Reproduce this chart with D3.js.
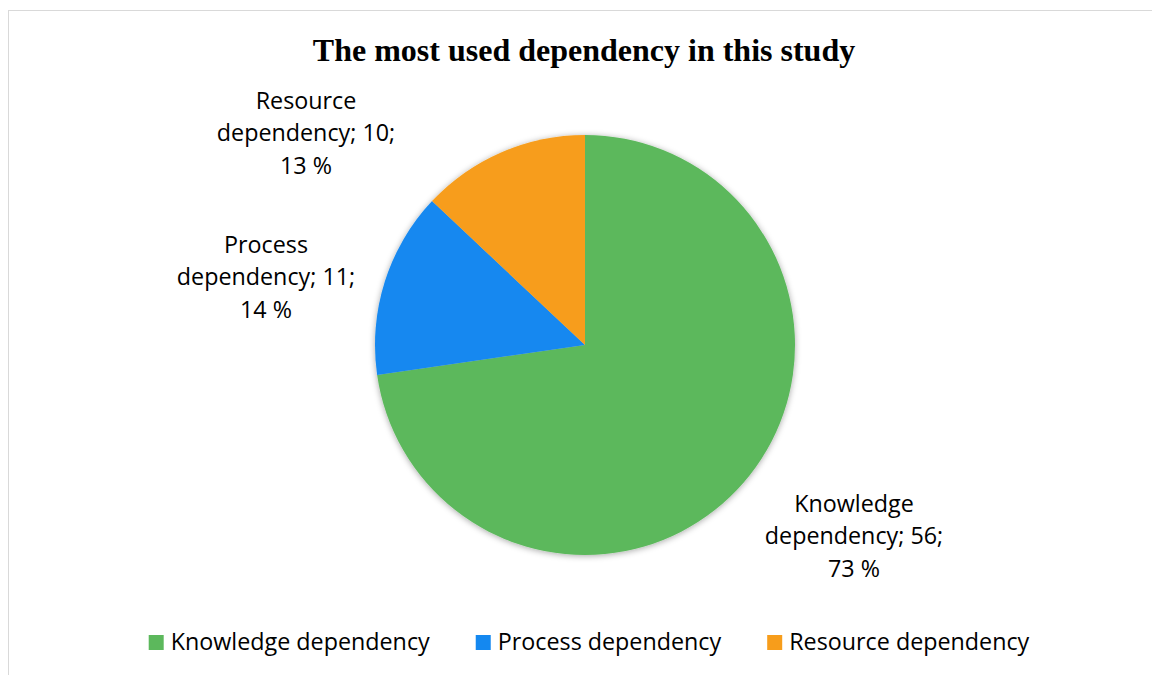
<!DOCTYPE html>
<html>
<head>
<meta charset="utf-8">
<script src="https://cdn.jsdelivr.net/npm/d3@7"></script>
<style>
  html, body { margin: 0; padding: 0; background: #fff; }
  svg { display: block; }
</style>
</head>
<body>
<svg id="chart" width="1152" height="675"></svg>
<script>
// ─── data ─────────────────────────────────────────────────────────────────────
const categories = ["Knowledge dependency", "Process dependency", "Resource dependency"];
const counts     = [56, 11, 10];
const percents   = ["73 %", "14 %", "13 %"];
const labelLines = [
  ["Knowledge", "dependency; 56;", "73 %"],
  ["Process", "dependency; 11;", "14 %"],
  ["Resource", "dependency; 10;", "13 %"]
];
const colors = ["#5cb85c", "#1488f0", "#f79d1b"];

// ─── layout ───────────────────────────────────────────────────────────────────
const W = 1152, H = 675;
const cx = 585, cy = 345, R = 210;
const FONT = "'Open Sans', 'Noto Sans', sans-serif";
const FS = "23.3px";
// centre of each data label block (Excel "best fit" placement)
const labelCenters = [[854, 537], [266, 278], [306, 134]];

const svg = d3.select("#chart");

// chart area border (only top + left visible in the crop)
svg.append("rect")
  .attr("x", 8.5).attr("y", 10.5)
  .attr("width", W + 20).attr("height", H + 20)
  .attr("fill", "none").attr("stroke", "#d9d9d9").attr("stroke-width", 1);

// title
svg.append("text")
  .attr("x", 584).attr("y", 61)
  .attr("text-anchor", "middle")
  .style("font-family", "'Liberation Serif', 'Times New Roman', serif")
  .style("font-weight", "bold")
  .style("font-size", "32px")
  .text("The most used dependency in this study");

// shadow filter
const defs = svg.append("defs");
const f = defs.append("filter").attr("id", "shadow")
  .attr("x", "-10%").attr("y", "-10%").attr("width", "120%").attr("height", "120%");
f.append("feDropShadow")
  .attr("dx", 0).attr("dy", 1).attr("stdDeviation", 3)
  .attr("flood-color", "#000").attr("flood-opacity", 0.35);

// pie
const pie = d3.pie().sort(null).value(d => d);
const arc = d3.arc().innerRadius(0).outerRadius(R);
const arcs = pie(counts);

const g = svg.append("g").attr("transform", `translate(${cx},${cy})`)
  .attr("filter", "url(#shadow)");
g.selectAll("path")
  .data(arcs)
  .enter().append("path")
  .attr("d", arc)
  .attr("fill", (d, i) => colors[i]);

// data labels
const lineH = 32.5;
labelLines.forEach((lines, i) => {
  const [lx, ly] = labelCenters[i];
  const t = svg.append("text")
    .attr("text-anchor", "middle")
    .style("font-family", FONT)
    .style("font-size", FS)
    .attr("fill", "#000");
  lines.forEach((ln, j) => {
    t.append("tspan")
      .attr("x", lx)
      .attr("y", ly + (j - 1) * lineH + 7)
      .text(ln);
  });
});

// legend
const sqTop = 635, sq = 15, gapText = 7, gapItem = 46;
const legend = svg.append("g");
const items = legend.selectAll("g").data(categories).enter().append("g");
items.append("rect")
  .attr("width", sq).attr("height", sq)
  .attr("y", sqTop)
  .attr("fill", (d, i) => colors[i]);
items.append("text")
  .attr("x", sq + gapText)
  .attr("y", 650)
  .style("font-family", FONT)
  .style("font-size", FS)
  .text(d => d);

const widths = [];
items.each(function () {
  widths.push(sq + gapText + d3.select(this).select("text").node().getComputedTextLength());
});
const total = d3.sum(widths) + gapItem * (widths.length - 1);
let x0 = (149 + 1029) / 2 - total / 2;
items.attr("transform", (d, i) => {
  const x = x0;
  x0 += widths[i] + gapItem;
  return `translate(${x},0)`;
});
</script>
</body>
</html>
